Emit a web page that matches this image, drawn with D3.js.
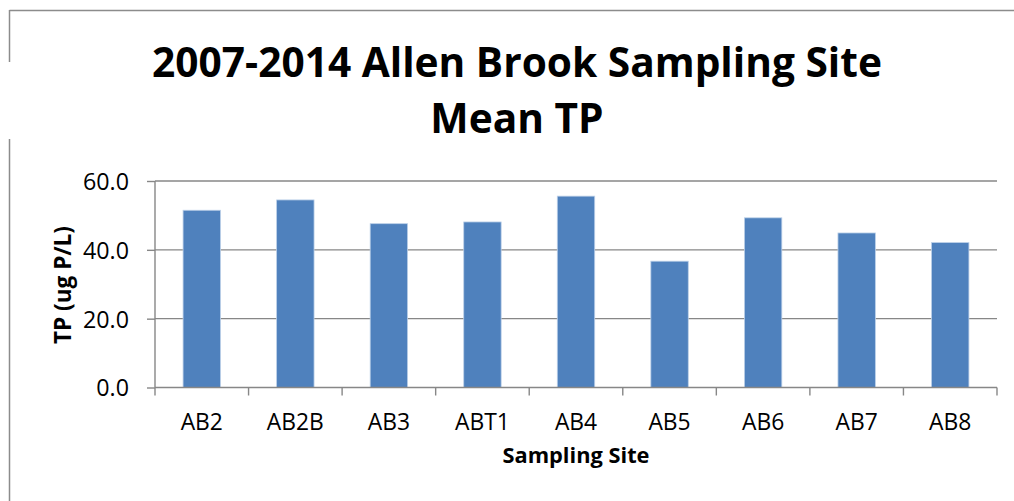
<!DOCTYPE html>
<html>
<head>
<meta charset="utf-8">
<script src="https://cdn.jsdelivr.net/npm/d3@7"></script>
<style>
  html, body { margin: 0; padding: 0; background: #fff; }
  svg { display: block; }
  text { font-family: "Open Sans", Lato, sans-serif; fill: #000; }
</style>
</head>
<body>
<div id="app"></div>
<script>
// values
const sites = ['AB2', 'AB2B', 'AB3', 'ABT1', 'AB4', 'AB5', 'AB6', 'AB7', 'AB8']
const meanTP = [51.5, 54.5, 47.6, 48.1, 55.6, 36.7, 49.3, 44.9, 42.1]
const yTicks = [0, 20, 40, 60]

const width = 1014
const height = 501

const svg = d3.select('#app')
  .append('svg')
  .attr('width', width)
  .attr('height', height)

// size a text so that it takes the width seen in the picture
const fitSize = (txt, weight, target) => {
  const t = svg.append('text')
    .style('font-size', '20px')
    .style('font-weight', weight)
    .text(txt)
  const w = t.node().getComputedTextLength()
  t.remove()
  return 20 * target / w
}

// frame bits of the page around the chart
const frame = svg.append('g')
  .attr('stroke', '#8c8c8c')
  .attr('stroke-width', 1.5)
  .attr('fill', 'none')
frame.append('line').attr('x1', 9.5).attr('x2', width).attr('y1', 10.5).attr('y2', 10.5)
frame.append('line').attr('x1', 9.5).attr('x2', 9.5).attr('y1', 10).attr('y2', 62)
frame.append('line').attr('x1', 9.5).attr('x2', 9.5).attr('y1', 139).attr('y2', height)

const plot = { left: 155, right: 997, top: 181, bottom: 387.5 }

const x = d3.scaleBand()
  .domain(sites)
  .range([plot.left, plot.right])
  .paddingInner(0.6)
  .paddingOuter(0.3)

const xEdge = d3.scaleLinear()
  .domain([0, sites.length])
  .range([plot.left, plot.right])

const y = d3.scaleLinear()
  .domain([0, 60])
  .range([plot.bottom, plot.top])

// gridlines
svg.append('g')
  .selectAll('line')
  .data(yTicks.filter(d => d > 0))
  .enter()
  .append('line')
    .attr('x1', plot.left)
    .attr('x2', plot.right)
    .attr('y1', d => y(d))
    .attr('y2', d => y(d))
    .attr('stroke', '#878787')
    .attr('stroke-width', 1.4)

// y axis
const tickSize = fitSize('60.0', 'normal', 46)
const yAxis = d3.axisLeft(y)
  .tickValues(yTicks)
  .tickFormat(d3.format('.1f'))
  .tickSize(8)
  .tickPadding(18)

const gy = svg.append('g')
  .attr('transform', 'translate(' + plot.left + ',0)')
  .call(yAxis)
gy.select('.domain').remove()
gy.selectAll('.tick line').attr('stroke', '#878787').attr('stroke-width', 1.4)
gy.selectAll('.tick text')
  .style('font-size', tickSize + 'px')
  .style('font-family', '"Open Sans", sans-serif')
  .attr('fill', '#000')
  .attr('dy', '0.36em')
gy.append('line')
  .attr('x1', 0).attr('x2', 0)
  .attr('y1', plot.top).attr('y2', plot.bottom)
  .attr('stroke', '#878787')
  .attr('stroke-width', 1.4)

// bars
svg.append('g')
  .selectAll('rect')
  .data(meanTP)
  .enter()
  .append('rect')
    .attr('x', (d, i) => x(sites[i]))
    .attr('y', d => y(d))
    .attr('width', x.bandwidth())
    .attr('height', d => y(0) - y(d))
    .attr('fill', '#4f81bd')
    .attr('stroke', '#bcd0e8')
    .attr('stroke-width', 0.8)

// x axis: baseline, ticks at category edges, labels centred
const catSize = fitSize('AB2B', 'normal', 57)
const gx = svg.append('g')
gx.append('line')
  .attr('x1', plot.left).attr('x2', plot.right)
  .attr('y1', plot.bottom).attr('y2', plot.bottom)
  .attr('stroke', '#878787')
  .attr('stroke-width', 1.4)
gx.selectAll('line.tick')
  .data(d3.range(sites.length + 1))
  .enter()
  .append('line')
    .attr('class', 'tick')
    .attr('x1', d => xEdge(d)).attr('x2', d => xEdge(d))
    .attr('y1', plot.bottom).attr('y2', plot.bottom + 8)
    .attr('stroke', '#878787')
    .attr('stroke-width', 1.4)
gx.selectAll('text')
  .data(sites)
  .enter()
  .append('text')
    .attr('x', d => x(d) + x.bandwidth() / 2)
    .attr('y', 430)
    .attr('text-anchor', 'middle')
    .style('font-size', catSize + 'px')
    .text(d => d)

// titles
const titleSize = fitSize('2007-2014 Allen Brook Sampling Site', 'bold', 730)
svg.append('text')
  .attr('x', 517)
  .attr('y', 77)
  .attr('text-anchor', 'middle')
  .style('font-weight', 'bold')
  .style('font-size', titleSize + 'px')
  .text('2007-2014 Allen Brook Sampling Site')

svg.append('text')
  .attr('x', 517)
  .attr('y', 133)
  .attr('text-anchor', 'middle')
  .style('font-weight', 'bold')
  .style('font-size', titleSize + 'px')
  .text('Mean TP')

svg.append('text')
  .attr('x', 576)
  .attr('y', 463)
  .attr('text-anchor', 'middle')
  .style('font-weight', 'bold')
  .style('font-size', fitSize('Sampling Site', 'bold', 147) + 'px')
  .text('Sampling Site')

svg.append('text')
  .attr('transform', 'translate(71,285) rotate(-90)')
  .attr('text-anchor', 'middle')
  .style('font-weight', 'bold')
  .style('font-size', fitSize('TP (ug P/L)', 'bold', 118) + 'px')
  .text('TP (ug P/L)')
</script>
</body>
</html>
